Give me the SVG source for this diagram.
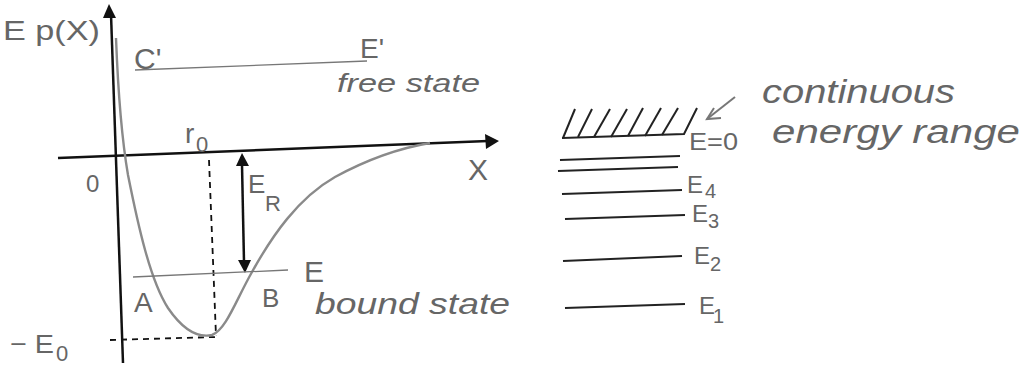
<svg xmlns="http://www.w3.org/2000/svg" width="1025" height="372" viewBox="0 0 1025 372">
<style>
.hw{font-family:"Liberation Sans","DejaVu Sans",sans-serif;fill:#666;}
.ax{stroke:#111;stroke-width:2.5;fill:none;}
.thin{stroke:#777;stroke-width:1.3;fill:none;}
.dash{stroke:#111;stroke-width:1.8;stroke-dasharray:6 5;fill:none;}
.lvl{stroke:#222;stroke-width:2;fill:none;}
.curve{stroke:#8a8a8a;stroke-width:2.4;fill:none;}
.head{fill:#111;}
</style>
<rect width="1025" height="372" fill="#fff"/>
<g id="connectors">
  <line class="ax" x1="111" y1="14" x2="123" y2="363"/>
  <polygon class="head" points="109,4 103,18 116,18"/>
  <line class="ax" x1="58" y1="158" x2="488" y2="141"/>
  <polygon class="head" points="499,141 485,134 486,149"/>
  <line class="dash" x1="209" y1="160" x2="216" y2="336"/>
  <line class="dash" x1="110" y1="340" x2="216" y2="337"/>
  <line class="ax" x1="242" y1="165" x2="244" y2="262" stroke-width="2"/>
  <polygon class="head" points="242,153 236,166 249,166"/>
  <polygon class="head" points="245,273 238,260 251,260"/>
  <line x1="735" y1="97" x2="707" y2="119" stroke="#777" stroke-width="2"/>
  <polyline points="714,108 707,119 721,118" fill="none" stroke="#777" stroke-width="2"/>
</g>
<g id="curve">
  <path class="curve" d="M116,38 C118,90 122,140 128,175 C138,225 150,280 168,308 C183,330 198,338 212,335 C226,330 236,300 252,272 C272,236 298,198 335,177 C370,158 400,148 430,143"/>
</g>
<g id="free-state">
  <line class="thin" x1="135" y1="70" x2="367" y2="61"/>
  <text class="hw" x="134" y="69" font-size="30">C'</text>
  <text class="hw" x="360" y="58" font-size="28">E'</text>
  <text class="hw" x="337" y="92" font-size="26" font-style="italic" textLength="143" lengthAdjust="spacingAndGlyphs">free state</text>
</g>
<g id="bound-state">
  <line class="thin" x1="133" y1="277" x2="288" y2="270"/>
  <text class="hw" x="304" y="282" font-size="30">E</text>
  <text class="hw" x="134" y="312" font-size="28">A</text>
  <text class="hw" x="262" y="307" font-size="26">B</text>
  <text class="hw" x="315" y="314" font-size="30" font-style="italic" textLength="195" lengthAdjust="spacingAndGlyphs">bound state</text>
</g>
<g id="axis-labels">
  <text class="hw" x="3" y="40" font-size="28" textLength="97" lengthAdjust="spacingAndGlyphs">E p(X)</text>
  <text class="hw" x="86" y="192" font-size="24">0</text>
  <text class="hw" x="468" y="180" font-size="30">X</text>
  <text class="hw" x="185" y="143" font-size="28">r</text>
  <text class="hw" x="196" y="152" font-size="22">0</text>
  <text class="hw" x="248" y="193" font-size="26">E</text>
  <text class="hw" x="265" y="211" font-size="22">R</text>
  <text class="hw" x="10" y="353" font-size="26" textLength="44" lengthAdjust="spacingAndGlyphs">− E</text>
  <text class="hw" x="56" y="361" font-size="22">0</text>
</g>
<g id="continuum">
  <polyline class="lvl" points="562,138 684,134 697,108"/>
  <line class="lvl" x1="563" y1="138" x2="575" y2="109"/>
  <line class="lvl" x1="578" y1="137" x2="592" y2="109"/>
  <line class="lvl" x1="594" y1="137" x2="610" y2="109"/>
  <line class="lvl" x1="611" y1="137" x2="627" y2="109"/>
  <line class="lvl" x1="628" y1="136" x2="643" y2="108"/>
  <line class="lvl" x1="645" y1="136" x2="661" y2="108"/>
  <line class="lvl" x1="662" y1="135" x2="678" y2="108"/>
  <text class="hw" x="689" y="150" font-size="24" textLength="49" lengthAdjust="spacingAndGlyphs">E=0</text>
  <text class="hw" x="762" y="103" font-size="34" font-style="italic" textLength="193" lengthAdjust="spacingAndGlyphs">continuous</text>
  <text class="hw" x="772" y="143" font-size="34" font-style="italic" textLength="248" lengthAdjust="spacingAndGlyphs">energy range</text>
</g>
<g id="levels">
  <line class="lvl" x1="560" y1="160" x2="680" y2="156"/>
  <line class="lvl" x1="558" y1="171" x2="678" y2="167"/>
  <line class="lvl" x1="562" y1="194" x2="682" y2="190"/>
  <line class="lvl" x1="565" y1="219" x2="685" y2="215"/>
  <line class="lvl" x1="563" y1="261" x2="682" y2="256"/>
  <line class="lvl" x1="565" y1="308" x2="685" y2="304"/>
  <text class="hw" x="687" y="193" font-size="24">E</text>
  <text class="hw" x="705" y="198" font-size="20">4</text>
  <text class="hw" x="692" y="222" font-size="24">E</text>
  <text class="hw" x="708" y="228" font-size="20">3</text>
  <text class="hw" x="694" y="264" font-size="24">E</text>
  <text class="hw" x="710" y="271" font-size="20">2</text>
  <text class="hw" x="699" y="314" font-size="24">E</text>
  <text class="hw" x="713" y="323" font-size="20">1</text>
</g>
</svg>
